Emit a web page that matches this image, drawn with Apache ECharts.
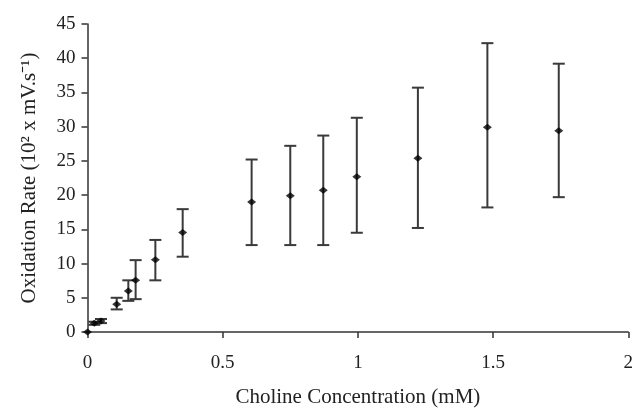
<!doctype html>
<html>
<head>
    <meta charset="utf-8">
    <title>Choline oxidation rate</title>
    <script src="https://cdn.jsdelivr.net/npm/echarts@6/dist/echarts.min.js"></script>
</head>
<style>
    html, body { margin: 0; padding: 0; background: #fff; }
    #chart { width: 636px; height: 413px; }
</style>
<body>
<div id="chart"></div>
<script>
  // values
  var concentration = [0, 0.025, 0.05, 0.108, 0.151, 0.178, 0.251, 0.352, 0.607, 0.75, 0.872, 0.996, 1.222, 1.479, 1.743];
  var rate          = [0, 1.27, 1.6, 4.05, 6.0, 7.56, 10.54, 14.54, 19.0, 19.9, 20.7, 22.7, 25.4, 29.9, 29.4];
  var upper         = [0, 1.5, 1.9, 5.0, 7.55, 10.5, 13.45, 17.95, 25.2, 27.2, 28.7, 31.3, 35.7, 42.2, 39.2];
  var lower         = [0, 1.05, 1.3, 3.3, 4.55, 4.8, 7.55, 11.0, 12.7, 12.7, 12.7, 14.5, 15.2, 18.2, 19.7];
  var xTicks = { min: 0, max: 2, interval: 0.5 };
  var yTicks = { min: 0, max: 45, interval: 5 };

  var points = concentration.map(function (c, i) { return [c, rate[i]]; });
  var bars = concentration.map(function (c, i) { return [c, lower[i], upper[i]]; });

  var font = 'Liberation Serif';
  var ink = '#222';

  var myChart = echarts.init(document.getElementById('chart'));
  var option = {
    animation: false,
    grid: { left: 87.5, right: 4, top: 24, bottom: 80.5 },
    xAxis: {
      type: 'value',
      min: xTicks.min, max: xTicks.max, interval: xTicks.interval,
      name: 'Choline Concentration (mM)',
      nameLocation: 'middle',
      nameGap: 55,
      nameTextStyle: { fontFamily: font, fontSize: 21, color: ink },
      axisLine: { lineStyle: { color: '#333', width: 1.5 } },
      axisTick: { show: true, length: 6, lineStyle: { color: '#333', width: 1.5 } },
      axisLabel: { margin: 22, fontFamily: font, fontSize: 19, color: ink },
      splitLine: { show: false }
    },
    yAxis: {
      type: 'value',
      min: yTicks.min, max: yTicks.max, interval: yTicks.interval,
      name: 'Oxidation Rate (10² x mV.s⁻¹)',
      nameLocation: 'middle',
      nameGap: 48,
      nameTextStyle: { fontFamily: font, fontSize: 21, color: ink },
      axisLine: { show: true, lineStyle: { color: '#333', width: 1.5 } },
      axisTick: { show: true, length: 6, lineStyle: { color: '#333', width: 1.5 } },
      axisLabel: { margin: 12, fontFamily: font, fontSize: 19, color: ink },
      splitLine: { show: false }
    },
    series: [
      {
        type: 'custom',
        data: bars,
        encode: { x: 0, y: [1, 2] },
        renderItem: function (params, api) {
          var x = api.value(0);
          var lo = api.coord([x, api.value(1)]);
          var hi = api.coord([x, api.value(2)]);
          if (Math.abs(lo[1] - hi[1]) < 1) return null;
          var w = 6;
          var style = { stroke: '#3a3a3a', lineWidth: 2 };
          return {
            type: 'group',
            children: [
              { type: 'line', shape: { x1: lo[0], y1: lo[1], x2: hi[0], y2: hi[1] }, style: style },
              { type: 'line', shape: { x1: hi[0] - w, y1: hi[1], x2: hi[0] + w, y2: hi[1] }, style: style },
              { type: 'line', shape: { x1: lo[0] - w, y1: lo[1], x2: lo[0] + w, y2: lo[1] }, style: style }
            ]
          };
        },
        z: 2
      },
      {
        type: 'scatter',
        data: points,
        symbol: 'diamond',
        symbolSize: [9, 7],
        itemStyle: { color: '#000' },
        z: 3
      }
    ]
  };

  myChart.setOption(option);
</script>
</body>
</html>
